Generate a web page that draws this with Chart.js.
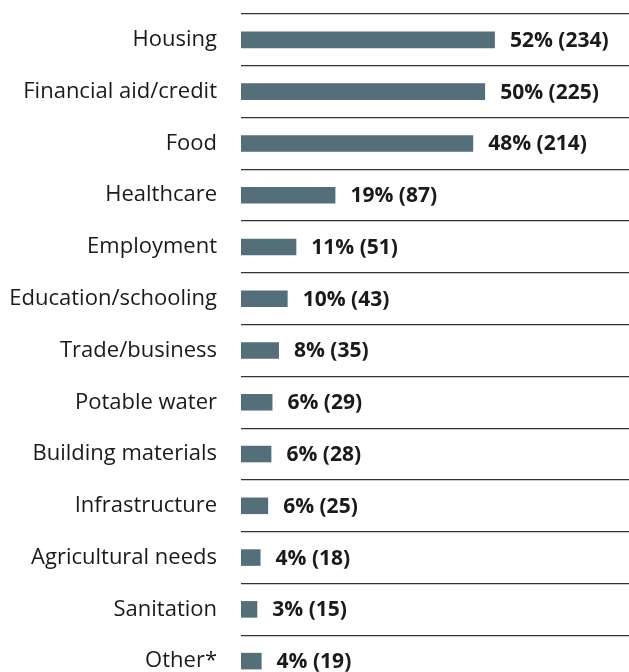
<!DOCTYPE html>
<html>
<head>
<meta charset="utf-8">
<script src="https://cdn.jsdelivr.net/npm/chart.js@4/dist/chart.umd.min.js"></script>
<style>
html,body{margin:0;padding:0;overflow:hidden;background:#fff;}
#wrap{position:relative;width:629px;height:687px;}
</style>
</head>
<body>
<div id="wrap"><canvas id="c"></canvas></div>
<script>
const categories = ["Housing","Financial aid/credit","Food","Healthcare","Employment","Education/schooling","Trade/business","Potable water","Building materials","Infrastructure","Agricultural needs","Sanitation","Other*"];
const counts = [234,225,214,87,51,43,35,29,28,25,18,15,19];
const percents = [52,50,48,19,11,10,8,6,6,6,4,3,4];
const valueLabels = percents.map((p,i) => p + "% (" + counts[i] + ")");

const labelPlugin = {
  id: 'valueLabels',
  afterDatasetsDraw(chart) {
    const ctx = chart.ctx;
    const meta = chart.getDatasetMeta(0);
    ctx.save();
    ctx.font = "bold 21px 'Open Sans'";
    ctx.fillStyle = "#1a1a1a";
    ctx.textAlign = "left";
    ctx.textBaseline = "middle";
    meta.data.forEach((bar, i) => {
      ctx.fillText(valueLabels[i], bar.x + 15, bar.y + 1);
    });
    ctx.restore();
  }
};

new Chart(document.getElementById('c'), {
  type: 'bar',
  data: {
    labels: categories,
    datasets: [{
      data: counts,
      backgroundColor: '#546e7a',
      borderWidth: 0,
      barPercentage: 0.8,
      categoryPercentage: 0.4
    }]
  },
  options: {
    indexAxis: 'y',
    responsive: true,
    maintainAspectRatio: false,
    animation: false,
    layout: { padding: { top: 14, right: 0, bottom: 0, left: 0 } },
    plugins: { legend: { display: false }, tooltip: { enabled: false } },
    scales: {
      x: { display: false, min: 0, max: 357.6 },
      y: {
        afterFit(s) { s.width = 241; s.paddingTop = 0; s.paddingBottom = 0; },
        border: { display: false },
        grid: { offset: true, drawTicks: false, color: '#333333', lineWidth: 1.3 },
        ticks: { padding: 24, color: '#1a1a1a', font: { family: "'Open Sans'", size: 22 } }
      }
    }
  },
  plugins: [labelPlugin]
});
</script>
</body>
</html>
